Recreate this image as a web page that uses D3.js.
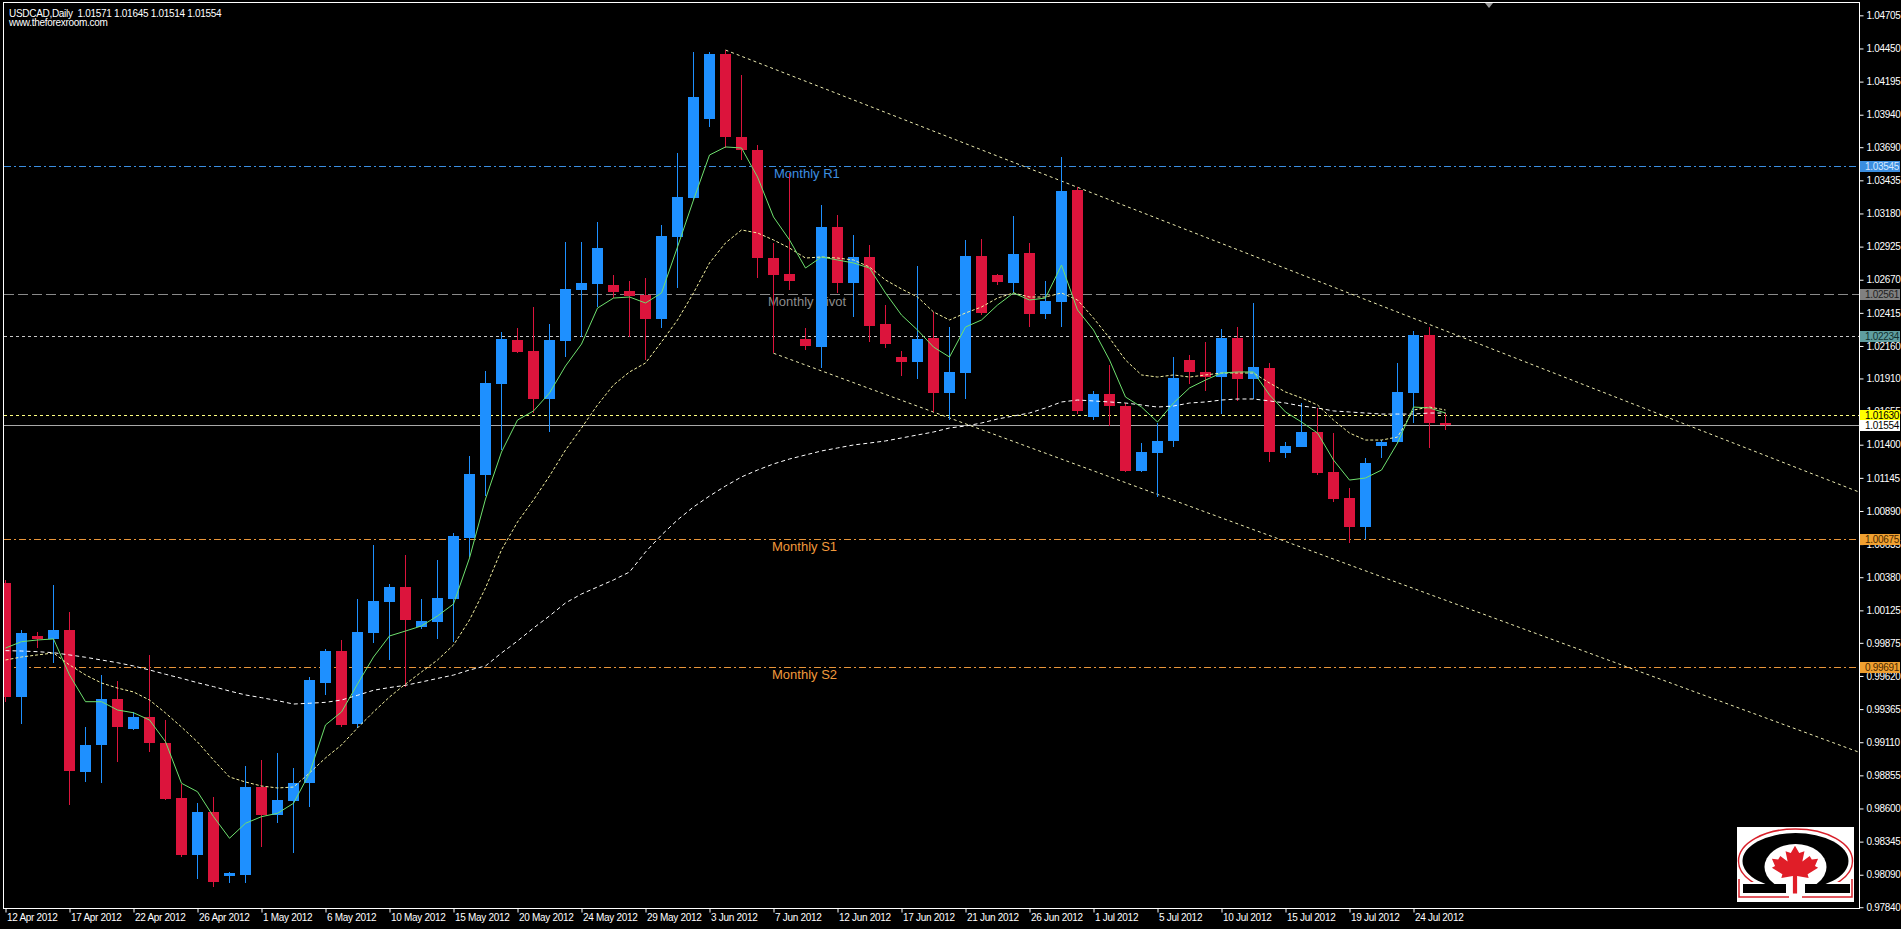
<!DOCTYPE html>
<html><head><meta charset="utf-8">
<script src="https://cdn.jsdelivr.net/npm/d3@7"></script>
<style>
html,body{margin:0;padding:0;background:#000;overflow:hidden}
svg{display:block}
text{font-family:"Liberation Sans",Arial,sans-serif}
</style></head><body>
<svg id="c" width="1901" height="929"></svg>
<script>
// ---------- DATA ----------
const dates = [
"2012-04-12","2012-04-13",
"2012-04-15","2012-04-16","2012-04-17","2012-04-18","2012-04-19","2012-04-20",
"2012-04-22","2012-04-23","2012-04-24","2012-04-25","2012-04-26","2012-04-27",
"2012-04-29","2012-04-30","2012-05-01","2012-05-02","2012-05-03","2012-05-04",
"2012-05-06","2012-05-07","2012-05-08","2012-05-09","2012-05-10","2012-05-11",
"2012-05-13","2012-05-14","2012-05-15","2012-05-16","2012-05-17","2012-05-18",
"2012-05-20","2012-05-21","2012-05-22","2012-05-23","2012-05-24","2012-05-25",
"2012-05-27","2012-05-28","2012-05-29","2012-05-30","2012-05-31","2012-06-01",
"2012-06-03","2012-06-04","2012-06-05","2012-06-06","2012-06-07","2012-06-08",
"2012-06-10","2012-06-11","2012-06-12","2012-06-13","2012-06-14","2012-06-15",
"2012-06-17","2012-06-18","2012-06-19","2012-06-20","2012-06-21","2012-06-22",
"2012-06-24","2012-06-25","2012-06-26","2012-06-27","2012-06-28","2012-06-29",
"2012-07-01","2012-07-02","2012-07-03","2012-07-04","2012-07-05","2012-07-06",
"2012-07-08","2012-07-09","2012-07-10","2012-07-11","2012-07-12","2012-07-13",
"2012-07-15","2012-07-16","2012-07-17","2012-07-18","2012-07-19","2012-07-20",
"2012-07-22","2012-07-23","2012-07-24","2012-07-25","2012-07-26"];

const open = [1.00333,0.99456,0.99928,0.99902,0.99974,0.98883,0.99086,0.99440,0.99210,0.99302,
0.99106,0.98679,0.98242,0.98571,0.98080,0.98086,0.98763,0.98550,0.98660,0.98794,
0.99564,0.99815,0.99250,0.99952,1.00191,1.00303,0.99999,1.00036,1.00213,1.00681,
1.01169,1.01870,1.02208,1.02119,1.01753,1.02198,1.02593,1.02640,1.02632,1.02585,
1.02552,1.02365,1.03001,1.03297,1.03907,1.04407,1.03771,1.03668,1.02835,1.02712,
1.02211,1.02154,1.03078,1.02647,1.02847,1.02329,1.02078,1.02039,1.02219,1.01796,
1.01950,1.02855,1.02706,1.02647,1.02873,1.02404,1.02501,1.03361,1.01616,1.01790,
1.01698,1.01197,1.01339,1.01425,1.02052,1.01957,1.01919,1.02224,1.01906,1.01993,
1.01339,1.01385,1.01500,1.01192,1.00992,1.00764,1.01392,1.01419,1.01800,1.02245,
1.01571];
const high = [1.00359,0.99974,0.99961,1.00320,1.00115,0.99230,0.99628,0.99584,0.99345,0.99781,
0.99281,0.98789,0.98640,0.98691,0.98113,0.98927,0.98973,0.99029,0.98909,0.99615,
0.99826,0.99897,1.00213,1.00628,1.00329,1.00551,1.00213,1.00511,1.00720,1.01310,
1.01968,1.02268,1.02299,1.02463,1.02333,1.02957,1.02957,1.03114,1.02710,1.02663,
1.02681,1.03091,1.03648,1.04425,1.04425,1.04438,1.04246,1.03707,1.02950,1.03489,
1.02296,1.03245,1.03168,1.03014,1.02937,1.02476,1.02121,1.02776,1.02424,1.02308,
1.02976,1.02981,1.02714,1.03160,1.02955,1.02662,1.03617,1.03381,1.01813,1.02014,
1.01719,1.01411,1.01565,1.02078,1.02091,1.02193,1.02288,1.02304,1.02488,1.02027,
1.01423,1.01723,1.01680,1.01492,1.01065,1.01295,1.01436,1.02031,1.02278,1.02304,
1.01645];
const low = [0.99420,0.99251,0.99833,0.99718,0.98627,0.98806,0.98794,0.98960,0.99204,0.99037,
0.98665,0.98229,0.98055,0.97994,0.98029,0.98024,0.98302,0.98486,0.98260,0.98609,
0.99474,0.99230,0.99220,0.99874,0.99743,0.99535,0.99978,0.99905,0.99879,1.00537,
1.01005,1.01357,1.02106,1.01643,1.01500,1.02073,1.02229,1.02463,1.02528,1.02229,
1.02052,1.02296,1.02604,1.03284,1.03848,1.03682,1.03591,1.02681,1.02104,1.02591,
1.02129,1.01988,1.02565,1.02385,1.02193,1.02142,1.01929,1.01904,1.01654,1.01590,
1.01750,1.02398,1.02629,1.02565,1.02308,1.02365,1.02304,1.01636,1.01590,1.01544,
1.01192,1.01192,1.01000,1.01385,1.01867,1.01816,1.01636,1.01739,1.01750,1.01269,
1.01295,1.01380,1.01167,1.00962,1.00641,1.00672,1.01295,1.01411,1.01565,1.01373,
1.01514];
const close = [0.99456,0.99953,0.99902,0.99974,0.98891,0.99089,0.99440,0.99225,0.99302,0.99106,
0.98676,0.98240,0.98571,0.98034,0.98101,0.98763,0.98548,0.98665,0.98794,0.99589,
0.99815,0.99243,0.99957,1.00199,1.00303,1.00048,1.00043,1.00220,1.00694,1.01175,
1.01872,1.02216,1.02117,1.01753,1.02203,1.02598,1.02642,1.02918,1.02575,1.02546,
1.02365,1.03007,1.03309,1.04079,1.04407,1.03771,1.03668,1.02835,1.02706,1.02662,
1.02162,1.03078,1.02647,1.02847,1.02316,1.02175,1.02039,1.02211,1.01796,1.01957,
1.02855,1.02412,1.02650,1.02866,1.02404,1.02509,1.03353,1.01662,1.01790,1.01698,
1.01197,1.01346,1.01429,1.01916,1.01962,1.01919,1.02224,1.01906,1.01996,1.01342,
1.01392,1.01500,1.01185,1.00980,1.00764,1.01262,1.01423,1.01808,1.02245,1.01569,
1.01554];

const maFast = [0.99835,0.99884,0.99897,0.99905,0.99628,0.99422,0.99422,0.99358,0.99337,0.99281,
0.99114,0.98794,0.98729,0.98537,0.98371,0.98486,0.98537,0.98563,0.98640,0.98871,
0.99243,0.99343,0.99558,0.99766,0.99928,0.99966,1.00005,1.00082,1.00174,1.00528,
1.00982,1.01344,1.01590,1.01660,1.01798,1.02006,1.02175,1.02452,1.02529,1.02537,
1.02491,1.02568,1.02922,1.03284,1.03630,1.03692,1.03684,1.03461,1.03153,1.02976,
1.02760,1.02845,1.02822,1.02799,1.02760,1.02568,1.02398,1.02283,1.02152,1.02075,
1.02306,1.02360,1.02475,1.02568,1.02514,1.02529,1.02783,1.02437,1.02283,1.02052,
1.01767,1.01690,1.01575,1.01721,1.01837,1.01898,1.01952,1.01960,1.01960,1.01783,
1.01652,1.01575,1.01490,1.01282,1.01128,1.01144,1.01205,1.01413,1.01690,1.01683,
1.01644];
const maMid = [0.99743,0.99766,0.99782,0.99797,0.99705,0.99628,0.99566,0.99527,0.99497,0.99435,
0.99335,0.99227,0.99112,0.98973,0.98842,0.98804,0.98773,0.98758,0.98765,0.98873,
0.98989,0.99089,0.99220,0.99343,0.99458,0.99558,0.99651,0.99743,0.99858,1.00051,
1.00297,1.00590,1.00805,1.00975,1.01159,1.01359,1.01529,1.01706,1.01860,1.01960,
1.02029,1.02191,1.02360,1.02568,1.02799,1.02953,1.03053,1.03030,1.02976,1.02914,
1.02837,1.02845,1.02837,1.02822,1.02768,1.02668,1.02599,1.02537,1.02422,1.02360,
1.02414,1.02460,1.02529,1.02568,1.02537,1.02537,1.02568,1.02514,1.02375,1.02221,
1.02052,1.01937,1.01921,1.01937,1.01921,1.01937,1.01952,1.01952,1.01952,1.01875,
1.01806,1.01760,1.01706,1.01590,1.01490,1.01436,1.01436,1.01459,1.01667,1.01690,
1.01667];
const maSlow = [0.99815,0.99812,0.99807,0.99799,0.99782,0.99764,0.99743,0.99722,0.99697,0.99666,
0.99633,0.99602,0.99568,0.99538,0.99504,0.99474,0.99453,0.99430,0.99404,0.99410,
0.99417,0.99435,0.99471,0.99510,0.99531,0.99548,0.99574,0.99601,0.99627,0.99666,
0.99697,0.99797,0.99889,0.99989,1.00082,1.00182,1.00251,1.00305,1.00359,1.00420,
1.00574,1.00705,1.00821,1.00921,1.01005,1.01082,1.01152,1.01205,1.01252,1.01290,
1.01321,1.01352,1.01375,1.01398,1.01413,1.01429,1.01452,1.01475,1.01498,1.01529,
1.01544,1.01567,1.01598,1.01621,1.01644,1.01683,1.01729,1.01744,1.01737,1.01729,
1.01721,1.01706,1.01690,1.01698,1.01721,1.01729,1.01744,1.01752,1.01752,1.01737,
1.01721,1.01698,1.01683,1.01660,1.01652,1.01644,1.01636,1.01636,1.01636,1.01644,
1.01644];

const priceTicks = ["1.04705","1.04450","1.04195","1.03940","1.03690","1.03435","1.03180","1.02925",
"1.02670","1.02415","1.02160","1.01910","1.01655","1.01400","1.01145","1.00890","1.00635","1.00380",
"1.00125","0.99875","0.99620","0.99365","0.99110","0.98855","0.98600","0.98345","0.98090","0.97840"];
const dateTicks = ["2012-04-12","2012-04-17","2012-04-22","2012-04-26","2012-05-01","2012-05-06",
"2012-05-10","2012-05-15","2012-05-20","2012-05-24","2012-05-29","2012-06-03","2012-06-07",
"2012-06-12","2012-06-17","2012-06-21","2012-06-26","2012-07-01","2012-07-05","2012-07-10",
"2012-07-15","2012-07-19","2012-07-24"];

const levelPrices = [1.03545, 1.02561, 1.02234, 1.01630, 1.01554, 1.00675, 0.99691];
const levelNames  = ["Monthly R1", "Monthly Pivot", "", "", "", "Monthly S1", "Monthly S2"];

const channelUpper = [["2012-06-04", 1.04438], ["2012-07-26", 1.02277]];
const channelLower = [["2012-06-07", 1.02104], ["2012-07-26", 1.00203]];

const titleText = "USDCAD,Daily  1.01571 1.01645 1.01514 1.01554";
const siteText = "www.theforexroom.com";

// ---------- STYLES / LAYOUT ----------
const L = 4, R = 1859, T = 3, B = 908;
const bull = "#1e90ff", bear = "#dc143c";
const levelStyle = [
  {stroke:"#3b8ee0", dash:"7,3,2,3", box:"#3b8ee0", txt:"#d6e8ff", lab:"#3d8fe0", lx:774},
  {stroke:"#8a8a8a", dash:"10,4",    box:"#808080", txt:"#1e1e1e", lab:"#8c8c8c", lx:768},
  {stroke:"#c8c8c8", dash:"3,3",     box:"#5f9ea0", txt:"#10302f"},
  {stroke:"#ffff80", dash:"3,3",     box:"#ffff00", txt:"#000000"},
  {stroke:"#a8a8a8", dash:null,      box:"#ffffff", txt:"#000000"},
  {stroke:"#e8953a", dash:"7,3,2,3", box:"#f0a030", txt:"#4a2800", lab:"#f09a3c", lx:772},
  {stroke:"#e8953a", dash:"7,3,2,3", box:"#f0a030", txt:"#4a2800", lab:"#f09a3c", lx:772}
];

const svg = d3.select("#c");
svg.append("rect").attr("width",1901).attr("height",929).attr("fill","#000");

const x = d3.scalePoint().domain(dates).range([5.5, 1445.5]);
const y = d3.scaleLinear().domain([0.97834, 1.04800]).range([B, T]);
const parse = d3.timeParse("%Y-%m-%d");
const fmt = d3.timeFormat("%-d %b %Y");

svg.append("defs").append("clipPath").attr("id","plot")
  .append("rect").attr("x",L).attr("y",T).attr("width",R-L).attr("height",B-T);

const bg = svg.append("g").attr("clip-path","url(#plot)");

// horizontal levels
levelPrices.forEach((p,i)=>{
  const st = levelStyle[i];
  const yy = Math.round(y(p)) + 0.5;
  const ln = bg.append("line").attr("x1",L).attr("x2",R).attr("y1",yy).attr("y2",yy)
    .attr("stroke",st.stroke).attr("stroke-width",1).attr("shape-rendering","crispEdges");
  if (st.dash) ln.attr("stroke-dasharray",st.dash);
  if (levelNames[i]) {
    bg.append("text").attr("x",st.lx).attr("y",yy+11.5).attr("fill",st.lab)
      .attr("font-size","13px").text(levelNames[i]);
  }
});

// channel lines (rays to the right edge)
function ray(pts){
  const x1 = x(pts[0][0]), y1 = y(pts[0][1]), x2 = x(pts[1][0]), y2 = y(pts[1][1]);
  const k = (y2-y1)/(x2-x1);
  bg.append("line").attr("x1",x1).attr("y1",y1).attr("x2",R).attr("y2",y1+k*(R-x1))
    .attr("stroke","#ecebb0").attr("stroke-width",1).attr("stroke-dasharray","3,3");
}
ray(channelUpper); ray(channelLower);

// candles
const cg = svg.append("g").attr("clip-path","url(#plot)");
dates.forEach((d,i)=>{
  const c = close[i] >= open[i] ? bull : bear;
  const cx = x(d);
  cg.append("line").attr("x1",cx).attr("x2",cx)
    .attr("y1",Math.round(y(high[i]))).attr("y2",Math.round(y(low[i])))
    .attr("stroke",c).attr("stroke-width",1).attr("shape-rendering","crispEdges");
  const top = Math.round(y(Math.max(open[i],close[i])));
  const bot = Math.round(y(Math.min(open[i],close[i])));
  cg.append("rect").attr("x",cx-5.5).attr("y",top).attr("width",11)
    .attr("height",Math.max(1,bot-top)).attr("fill",c).attr("shape-rendering","crispEdges");
});

// moving averages
const lineGen = d3.line().x((v,i)=>x(dates[i])).y(v=>y(v));
cg.append("path").datum(maSlow).attr("d",lineGen).attr("fill","none")
  .attr("stroke","#ffffff").attr("stroke-width",1).attr("stroke-dasharray","4,3");
cg.append("path").datum(maMid).attr("d",lineGen).attr("fill","none")
  .attr("stroke","#f4f0a0").attr("stroke-width",1).attr("stroke-dasharray","3,2");
cg.append("path").datum(maFast).attr("d",lineGen).attr("fill","none")
  .attr("stroke","#6ee06e").attr("stroke-width",1);

// logo
const lg = svg.append("g");
lg.append("rect").attr("x",1737).attr("y",827).attr("width",117).attr("height",75).attr("fill","#fff");
lg.append("defs").append("clipPath").attr("id","lclip").append("rect")
  .attr("x",1730).attr("y",820).attr("width",130).attr("height",62);
lg.append("ellipse").attr("cx",1795.5).attr("cy",861).attr("rx",57).attr("ry",32)
  .attr("fill","none").attr("stroke","#d8202a").attr("stroke-width",1.5).attr("clip-path","url(#lclip)");
lg.append("ellipse").attr("cx",1795.5).attr("cy",861).attr("rx",53).attr("ry",28).attr("fill","#000");
lg.append("ellipse").attr("cx",1795.5).attr("cy",867).attr("rx",31).attr("ry",23).attr("fill","#fff");
lg.append("rect").attr("x",1781).attr("y",878).attr("width",29).attr("height",22).attr("fill","#fff");
lg.append("rect").attr("x",1743).attr("y",884).attr("width",43).attr("height",9).attr("fill","#000");
lg.append("rect").attr("x",1805).attr("y",884).attr("width",45).attr("height",9).attr("fill","#000");
lg.append("path").attr("d","M1739,879 L1739,897 L1789,897 M1852,879 L1852,897 L1802,897")
  .attr("fill","none").attr("stroke","#d8202a").attr("stroke-width",1.5);
lg.append("path")
  .attr("transform","translate(1795,866) scale(1.05,0.92)")
  .attr("d","M0,-22 L4,-14 L9,-16 L7,-5 L14,-11 L16,-7 L22,-8 L19,0 L22,2 L12,9 L13,13 L2,11 L2,30 L-2,30 L-2,11 L-13,13 L-12,9 L-22,2 L-19,0 L-22,-8 L-16,-7 L-14,-11 L-7,-5 L-9,-16 L-4,-14 Z")
  .attr("fill","#e01e28");

// frame
svg.append("rect").attr("x",L-0.5).attr("y",T-0.5).attr("width",R-L+1).attr("height",B-T+1)
  .attr("fill","none").attr("stroke","#ffffff").attr("stroke-width",1).attr("shape-rendering","crispEdges");

// right price axis
const ya = svg.append("g").attr("transform",`translate(${R+0.5},0)`)
  .call(d3.axisRight(y).tickValues(priceTicks.map(Number)).tickFormat((d,i)=>priceTicks[i]).tickSize(4).tickPadding(3));
ya.select(".domain").remove();
ya.selectAll("line").attr("stroke","#fff");
ya.selectAll("text").attr("fill","#fff").attr("font-size","10px").attr("letter-spacing","-0.3px")
  .attr("font-family","'Liberation Sans',Arial,sans-serif");

// highlighted level labels on axis
levelPrices.forEach((p,i)=>{
  const st = levelStyle[i];
  const yy = Math.round(y(p));
  svg.append("rect").attr("x",R+1).attr("y",yy-5).attr("width",40).attr("height",11).attr("fill",st.box);
  svg.append("text").attr("x",R+6).attr("y",yy+4).attr("fill",st.txt).attr("font-size","10px")
    .attr("letter-spacing","-0.3px").text(d3.format(".5f")(p));
});

// bottom date axis
const xa = svg.append("g").attr("transform",`translate(0,${B+0.5})`)
  .call(d3.axisBottom(x).tickValues(dateTicks).tickFormat(d=>fmt(parse(d))).tickSize(4).tickPadding(2));
xa.select(".domain").remove();
xa.selectAll("line").attr("stroke","#fff");
xa.selectAll("text").attr("fill","#fff").attr("font-size","10px").attr("letter-spacing","-0.3px")
  .attr("text-anchor","start").attr("dx","1").attr("y",5)
  .attr("font-family","'Liberation Sans',Arial,sans-serif");

// title
svg.append("text").attr("x",9).attr("y",16.5).attr("fill","#fff").attr("font-size","10px")
  .attr("letter-spacing","-0.3px").style("white-space","pre").text(titleText);
svg.append("text").attr("x",9).attr("y",25.5).attr("fill","#fff").attr("font-size","10px")
  .attr("letter-spacing","-0.3px").text(siteText);

// chart shift marker
svg.append("path").attr("d","M1485,3 L1493,3 L1489,8 Z").attr("fill","#9a9a9a");
</script>
</body></html>
